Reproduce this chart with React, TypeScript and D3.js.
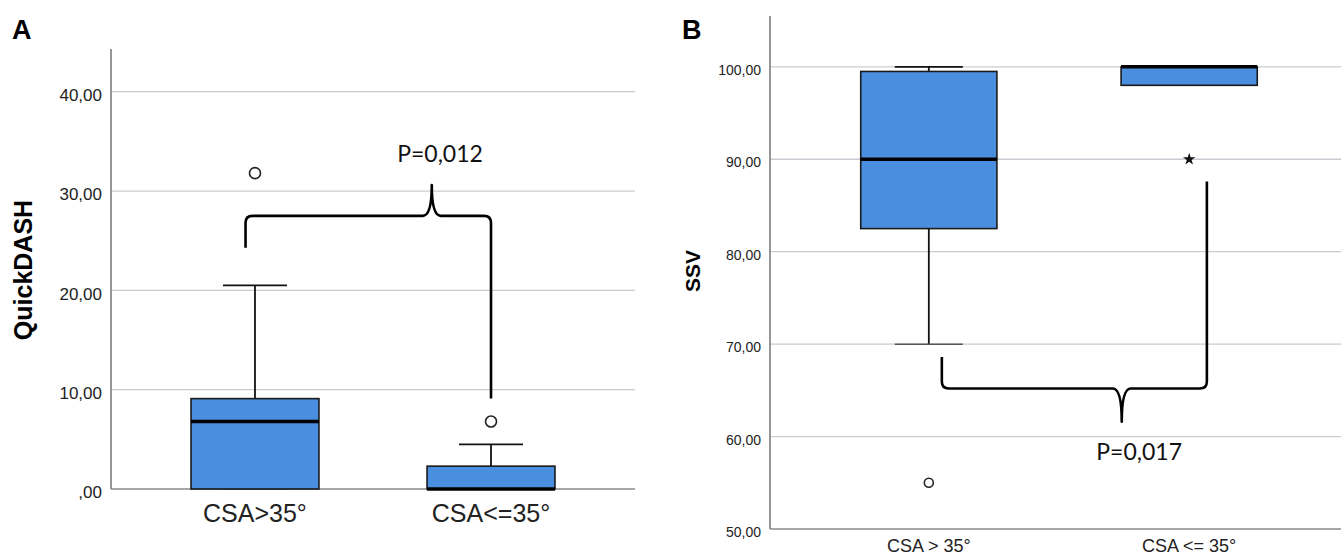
import React from "react";
import * as d3 from "d3";

// Panel A: QuickDASH
const groupsA = ["CSA>35°", "CSA<=35°"];
const ticksA = [0, 10, 20, 30, 40];
const lowA = [0, 0];
const q1A = [0, 0];
const medA = [6.8, 0];
const q3A = [9.1, 2.3];
const highA = [20.5, 4.5];
const outliersA = [
  { g: 0, v: 31.8, shape: "circle" },
  { g: 1, v: 6.8, shape: "circle" },
];
// brace: x as fraction between the two group centres, y in data units
const braceA = { xL: -0.04, yL: 24.3, yM: 27.5, xT: 0.749, yT: 30.6, xR: 1.0, yR: 9.1 };
const pTextA = { label: "P=0,012", x: 0.784, y: 32.9 };

// Panel B: SSV
const groupsB = ["CSA > 35°", "CSA <= 35°"];
const ticksB = [50, 60, 70, 80, 90, 100];
const lowB = [70, 98];
const q1B = [82.5, 98];
const medB = [90, 100];
const q3B = [99.5, 100];
const highB = [100, 100];
const outliersB = [
  { g: 0, v: 55, shape: "circle" },
  { g: 1, v: 90, shape: "star" },
];
const braceB = { xL: 0.05, yL: 68.6, yM: 65.2, xT: 0.741, yT: 61.6, xR: 1.068, yR: 87.6 };
const pTextB = { label: "P=0,017", x: 0.808, y: 57.5 };

const BLUE = "#4a8ee0";
const fmt = (v: number) => (v === 0 ? ",00" : v.toFixed(2).replace(".", ","));

function bracePath(xL: number, yL: number, yM: number, xT: number, yT: number, xR: number, yR: number) {
  const r = 7;
  const r2 = 9;
  const sL = Math.sign(yL - yM);
  const sR = Math.sign(yR - yM);
  return [
    `M${xL},${yL}`,
    `L${xL},${yM + sL * r}`,
    `Q${xL},${yM} ${xL + r},${yM}`,
    `L${xT - r2},${yM}`,
    `Q${xT},${yM} ${xT},${yT}`,
    `Q${xT},${yM} ${xT + r2},${yM}`,
    `L${xR - r},${yM}`,
    `Q${xR},${yM} ${xR},${yM + sR * r}`,
    `L${xR},${yR}`,
  ].join(" ");
}

function Panel(props: any) {
  const {
    letter, letterX, yTitle, titleX, titleY, titleSize,
    groups, ticks, domain, x0, x1, yTop, yBottom, gridRight,
    low, q1, med, q3, high, outliers, brace, pText,
    boxFrac, tickSize, tickDy, xLabelSize, xLabelY, outR,
  } = props;

  const x = d3.scalePoint<string>().domain(groups).range([x0, x1]).padding(0.61);
  const y = d3.scaleLinear().domain(domain).range([yBottom, yTop]);
  const step = x.step();
  const bw = step * boxFrac;
  const cx = (i: number) => x(groups[i]) as number;
  const tx = (t: number) => cx(0) + t * (cx(1) - cx(0));
  const star = d3.symbol().type(d3.symbolStar).size(48)();

  return (
    <g>
      <text x={letterX} y={39} fontFamily="Liberation Sans, Arial, sans-serif" fontWeight="bold" fontSize={27}>
        {letter}
      </text>
      <text
        transform={`translate(${titleX},${titleY}) rotate(-90)`}
        textAnchor="middle"
        fontFamily="Liberation Sans, Arial, sans-serif"
        fontWeight="bold"
        fontSize={titleSize}
      >
        {yTitle}
      </text>

      {/* grid */}
      {ticks.map((t: number) => (
        <g key={t}>
          {t !== domain[0] && (
            <line x1={x0} x2={gridRight} y1={y(t)} y2={y(t)} stroke="#c9ccd2" strokeWidth={1.3} />
          )}
          <text
            x={x0 - 9}
            y={y(t)}
            dy={tickDy}
            textAnchor="end"
            fontFamily="Liberation Sans, Arial, sans-serif"
            fontSize={tickSize}
            fill="#222"
          >
            {fmt(t)}
          </text>
        </g>
      ))}

      {/* axes */}
      <line x1={x0} x2={x0} y1={yTop} y2={yBottom} stroke="#7d7d7d" strokeWidth={1.6} />
      <line x1={x0} x2={gridRight} y1={yBottom} y2={yBottom} stroke="#8a8a8a" strokeWidth={1.6} />

      {/* boxes */}
      {groups.map((g: string, i: number) => {
        const c = cx(i);
        return (
          <g key={g}>
            <line x1={c} x2={c} y1={y(q3[i])} y2={y(high[i])} stroke="#111" strokeWidth={1.8} />
            <line x1={c} x2={c} y1={y(q1[i])} y2={y(low[i])} stroke="#111" strokeWidth={1.8} />
            <line x1={c - bw / 4} x2={c + bw / 4} y1={y(high[i])} y2={y(high[i])} stroke="#111" strokeWidth={1.8} />
            <line x1={c - bw / 4} x2={c + bw / 4} y1={y(low[i])} y2={y(low[i])} stroke="#555" strokeWidth={1.5} />
            <rect
              x={c - bw / 2}
              y={y(q3[i])}
              width={bw}
              height={Math.max(0, y(q1[i]) - y(q3[i]))}
              fill={BLUE}
              stroke="#1a1a1a"
              strokeWidth={1.6}
            />
            <line x1={c - bw / 2} x2={c + bw / 2} y1={y(med[i])} y2={y(med[i])} stroke="#000" strokeWidth={3.5} />
            <text
              x={c}
              y={xLabelY}
              textAnchor="middle"
              fontFamily="Liberation Sans, Arial, sans-serif"
              fontSize={xLabelSize}
              fill="#222"
            >
              {g}
            </text>
          </g>
        );
      })}

      {/* outliers */}
      {outliers.map((o: any, i: number) =>
        o.shape === "star" ? (
          <path key={i} d={star as string} transform={`translate(${cx(o.g)},${y(o.v)})`} fill="#111" />
        ) : (
          <circle key={i} cx={cx(o.g)} cy={y(o.v)} r={outR} fill="#fff" stroke="#222" strokeWidth={1.6} />
        )
      )}

      {/* brace + p value */}
      <path
        d={bracePath(tx(brace.xL), y(brace.yL), y(brace.yM), tx(brace.xT), y(brace.yT), tx(brace.xR), y(brace.yR))}
        fill="none"
        stroke="#000"
        strokeWidth={2.6}
        strokeLinejoin="round"
      />
      <text
        x={tx(pText.x)}
        y={y(pText.y)}
        textAnchor="middle"
        fontFamily="Lato, Open Sans, sans-serif"
        fontSize={23}
        fill="#111"
      >
        {pText.label}
      </text>
    </g>
  );
}

export default function App() {
  return (
    <svg
      width={1341}
      height={558}
      style={{ position: "absolute", left: 0, top: 0, background: "#fff" }}
    >
      <rect width={1341} height={558} fill="#fff" />
      <Panel
        letter="A" letterX={12} yTitle="QuickDASH" titleX={32} titleY={270} titleSize={25}
        groups={groupsA} ticks={ticksA} domain={[0, 44.3]}
        x0={111} x1={635} yTop={49} yBottom={489} gridRight={635}
        low={lowA} q1={q1A} med={medA} q3={q3A} high={highA} outliers={outliersA}
        brace={braceA} pText={pTextA}
        boxFrac={0.542} tickSize={17} tickDy="0.55em" xLabelSize={25} xLabelY={522} outR={5.5}
      />
      <Panel
        letter="B" letterX={682} yTitle="SSV" titleX={700} titleY={271} titleSize={21}
        groups={groupsB} ticks={ticksB} domain={[50, 105.5]}
        x0={770} x1={1348} yTop={16} yBottom={529} gridRight={1341}
        low={lowB} q1={q1B} med={medB} q3={q3B} high={highB} outliers={outliersB}
        brace={braceB} pText={pTextB}
        boxFrac={0.523} tickSize={14} tickDy="0.57em" xLabelSize={18} xLabelY={552} outR={4.5}
      />
    </svg>
  );
}
